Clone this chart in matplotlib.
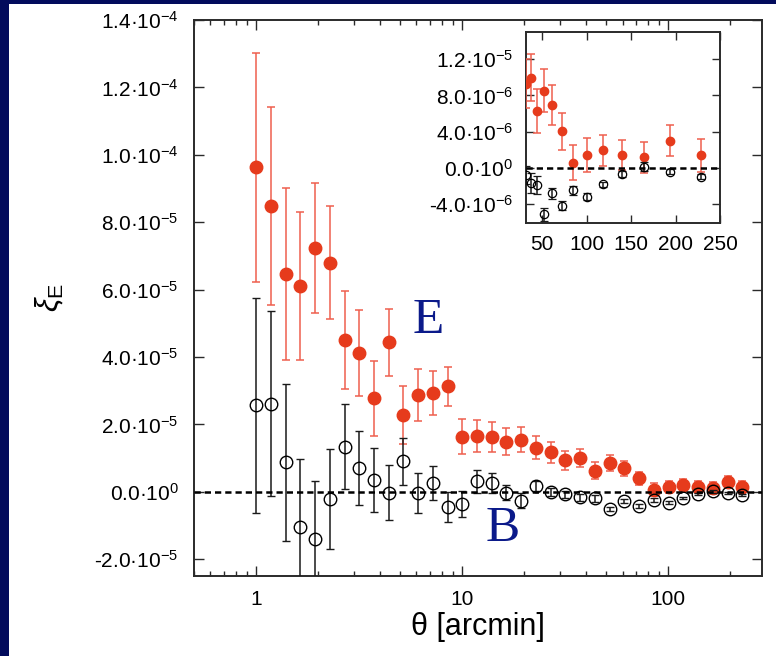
import numpy as np
import matplotlib
matplotlib.use("Agg")
import matplotlib.pyplot as plt
from matplotlib.patches import Rectangle
from matplotlib.ticker import FixedLocator, FixedFormatter, LogLocator, NullFormatter

plt.rcParams['font.family'] = ['Liberation Sans', 'DejaVu Sans']
plt.rcParams['mathtext.fontset'] = 'custom'
plt.rcParams['mathtext.rm'] = 'Liberation Sans'
plt.rcParams['mathtext.it'] = 'Liberation Sans:italic'
plt.rcParams['mathtext.bf'] = 'Liberation Sans:bold'

# angular bins [arcmin]
theta = [1.00, 1.18, 1.39, 1.64, 1.93, 2.28, 2.69, 3.17, 3.73, 4.40,
         5.19, 6.12, 7.21, 8.50, 10.0, 11.8, 13.9, 16.4, 19.4, 22.8,
         26.9, 31.7, 37.4, 44.1, 52.0, 61.3, 72.3, 85.3, 100.5, 118.5,
         139.7, 164.7, 194.2, 229.0]

# E-mode and B-mode correlation, in units of 1e-5
xi_e = [9.63, 8.47, 6.45, 6.10, 7.23, 6.80, 4.51, 4.11, 2.77, 4.43,
        2.28, 2.87, 2.93, 3.13, 1.63, 1.65, 1.63, 1.48, 1.55, 1.31,
        1.17, 0.93, 0.997, 0.629, 0.853, 0.695, 0.401, 0.055, 0.143, 0.191,
        0.140, 0.114, 0.298, 0.136]
xi_e_err = [3.40, 2.94, 2.55, 2.20, 1.92, 1.67, 1.45, 1.27, 1.12, 0.98,
            0.87, 0.77, 0.65, 0.58, 0.52, 0.47, 0.44, 0.40, 0.36, 0.33,
            0.31, 0.27, 0.26, 0.245, 0.234, 0.22, 0.20, 0.193, 0.187, 0.175,
            0.17, 0.17, 0.17, 0.18]
xi_b = [2.57, 2.61, 0.87, -1.04, -1.39, -0.21, 1.34, 0.70, 0.35, -0.03,
        0.90, -0.03, 0.26, -0.45, -0.36, 0.31, 0.26, -0.03, -0.26, 0.18,
        0.00, -0.08, -0.166, -0.191, -0.515, -0.283, -0.419, -0.246, -0.320, -0.184,
        -0.070, 0.011, -0.044, -0.099]
xi_b_err = [3.19, 2.74, 2.33, 2.00, 1.72, 1.48, 1.27, 1.10, 0.95, 0.81,
            0.70, 0.60, 0.51, 0.45, 0.38, 0.34, 0.30, 0.22, 0.22, 0.15,
            0.12, 0.10, 0.11, 0.10, 0.07, 0.06, 0.05, 0.05, 0.04, 0.03,
            0.03, 0.05, 0.03, 0.03]

main_yticks = [-2e-5, 0, 2e-5, 4e-5, 6e-5, 8e-5, 1e-4, 1.2e-4, 1.4e-4]
main_ylabels = ['-2.0·10$^{-5}$', '0.0·10$^{0}$', '2.0·10$^{-5}$', '4.0·10$^{-5}$',
                '6.0·10$^{-5}$', '8.0·10$^{-5}$', '1.0·10$^{-4}$', '1.2·10$^{-4}$',
                '1.4·10$^{-4}$']
main_xticks = [1, 10, 100]
main_xlabels = ['1', '10', '100']

inset_yticks = [-4e-6, 0, 4e-6, 8e-6, 1.2e-5]
inset_ylabels = ['-4.0·10$^{-6}$', '0.0·10$^{0}$', '4.0·10$^{-6}$', '8.0·10$^{-6}$',
                 '1.2·10$^{-5}$']
inset_xticks = [50, 100, 150, 200, 250]

theta = np.array(theta)
e = np.array(xi_e) * 1e-5
e_err = np.array(xi_e_err) * 1e-5
b = np.array(xi_b) * 1e-5
b_err = np.array(xi_b_err) * 1e-5

navy = '#020b5c'
red = '#e63b1c'
red_bar = '#ef5f4e'
label_blue = '#0b1a8a'
W, H = 776, 656


def style_axes(ax, lw=1.4):
    for sp in ax.spines.values():
        sp.set_linewidth(lw)
        sp.set_color('#2a2a2a')


def draw_points(ax, x, e, ee, b, be, ms, mew, cap):
    ax.errorbar(x, e, yerr=ee, fmt='o', ms=ms, color=red, mec=red,
                ecolor=red_bar, elinewidth=1.1, capsize=cap, capthick=1.1, zorder=3)
    ax.errorbar(x, b, yerr=be, fmt='o', ms=ms, mfc='none', mec='black', mew=mew,
                ecolor='#1a1a1a', elinewidth=1.1, capsize=cap, capthick=1.1, zorder=4)
    ax.axhline(0, color='black', ls=(0, (2.5, 1.6)), lw=1.8, zorder=5)


fig = plt.figure(figsize=(W / 100, H / 100), dpi=100, facecolor=navy)
fig.add_artist(Rectangle((9 / W, 0), 1, 1 - 4 / H, transform=fig.transFigure,
                         facecolor='white', edgecolor='none', zorder=0))

# main panel
ax = fig.add_axes([194 / W, 80 / H, 568 / W, 556 / H])
style_axes(ax)
draw_points(ax, theta, e, e_err, b, b_err, ms=9, mew=1.0, cap=3)
ax.set_xscale('log')
ax.set_xlim(0.5, 285)
ax.set_ylim(-2.5e-5, 1.4e-4)
ax.xaxis.set_major_locator(FixedLocator(main_xticks))
ax.xaxis.set_major_formatter(FixedFormatter(main_xlabels))
ax.xaxis.set_minor_locator(LogLocator(base=10, subs=np.arange(2, 10)))
ax.xaxis.set_minor_formatter(NullFormatter())
ax.yaxis.set_major_locator(FixedLocator(main_yticks))
ax.yaxis.set_major_formatter(FixedFormatter(main_ylabels))
ax.tick_params(which='both', direction='in', top=True, right=True, width=1.0, color='#2a2a2a')
ax.tick_params(which='major', length=7)
ax.tick_params(which='minor', length=3.5)
ax.tick_params(axis='y', labelsize=15, pad=11)
ax.tick_params(axis='x', labelsize=15, pad=10)
ax.set_xlabel('θ [arcmin]', fontsize=22, labelpad=2)

fig.text(50 / W, 1 - 298 / H, r'$\xi_{\mathregular{E}}$', fontsize=22, rotation=90,
         ha='center', va='center')

fig.text(428 / W, 1 - 333 / H, 'E', fontsize=37, family='Liberation Serif',
         color=label_blue, ha='center', va='baseline')
fig.text(503 / W, 1 - 541 / H, 'B', fontsize=37, family='Liberation Serif',
         color=label_blue, ha='center', va='baseline')

# inset: large scales on a linear axis
sel = theta > 30
ins = fig.add_axes([526 / W, (H - 223) / H, 194 / W, 191 / H])
style_axes(ins)
draw_points(ins, theta[sel], e[sel], e_err[sel], b[sel], b_err[sel], ms=6, mew=0.9, cap=3)
ins.set_xlim(32, 250)
ins.set_ylim(-6.1e-6, 1.5e-5)
ins.xaxis.set_major_locator(FixedLocator(inset_xticks))
ins.yaxis.set_major_locator(FixedLocator(inset_yticks))
ins.yaxis.set_major_formatter(FixedFormatter(inset_ylabels))
ins.tick_params(which='both', direction='in', top=True, right=True, width=1.0,
                length=6, color='#2a2a2a', labelsize=15, pad=9)

fig.savefig('out.png', dpi=100, facecolor=navy)
